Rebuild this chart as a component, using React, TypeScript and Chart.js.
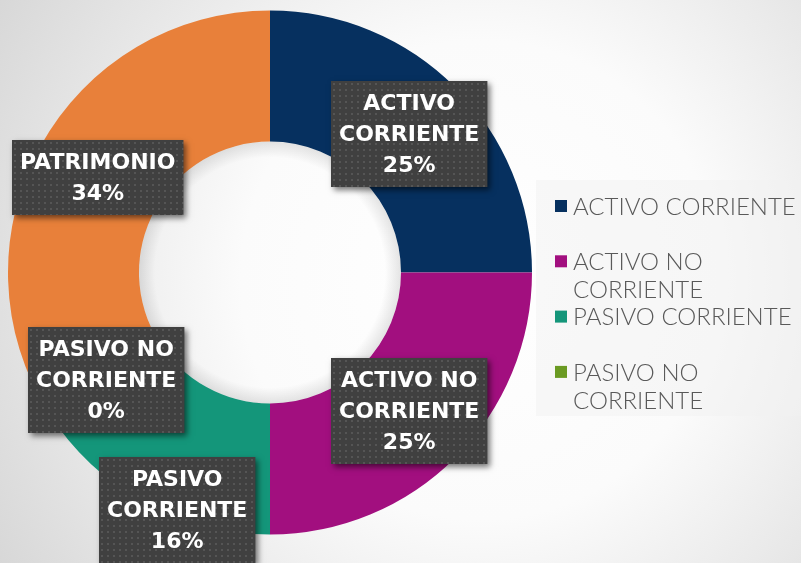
import React, { useEffect, useRef } from "react";
import { Chart, registerables } from "chart.js";

Chart.register(...registerables);

// ---- data ----
const categories = [
  "ACTIVO CORRIENTE",
  "ACTIVO NO CORRIENTE",
  "PASIVO CORRIENTE",
  "PASIVO NO CORRIENTE",
  "PATRIMONIO",
];
const values = [25, 25, 16, 0, 34];
const colors = ["#06305f", "#a20f7f", "#14967a", "#6a9a22", "#e8803a"];

// label placement tweaks (collision avoidance like the original)
const labelShift = [
  { dx: 0, dy: 0 },
  { dx: 0, dy: 0 },
  { dx: 2, dy: 65 },
  { dx: 2, dy: 2 },
  { dx: 0, dy: 0 },
];

const W = 801;
const H = 563;
const PANEL = { x: 536, y: 180, w: W - 536, h: 236 };

function wrap(ctx: CanvasRenderingContext2D, text: string, maxW: number): string[] {
  const words = text.split(" ");
  const lines: string[] = [];
  let cur = "";
  for (const w of words) {
    const t = cur ? cur + " " + w : w;
    if (cur && ctx.measureText(t).width > maxW) {
      lines.push(cur);
      cur = w;
    } else cur = t;
  }
  if (cur) lines.push(cur);
  return lines;
}

let dotPattern: CanvasPattern | null = null;
function getPattern(ctx: CanvasRenderingContext2D) {
  if (dotPattern) return dotPattern;
  const c = document.createElement("canvas");
  c.width = 6;
  c.height = 6;
  const p = c.getContext("2d")!;
  p.fillStyle = "rgba(255,255,255,0.11)";
  p.fillRect(2, 2, 2, 2);
  dotPattern = ctx.createPattern(c, "repeat");
  return dotPattern;
}

const bgPlugin = {
  id: "bgPlugin",
  beforeDraw(chart: any) {
    const ctx = chart.ctx as CanvasRenderingContext2D;
    ctx.save();
    const g = ctx.createRadialGradient(480, 280, 0, 480, 280, 570);
    g.addColorStop(0, "#ffffff");
    g.addColorStop(0.42, "#fbfbfb");
    g.addColorStop(1, "#d6d6d6");
    ctx.fillStyle = g;
    ctx.fillRect(0, 0, chart.width, chart.height);
    // legend panel
    ctx.fillStyle = "rgba(242,242,242,0.5)";
    ctx.fillRect(PANEL.x, PANEL.y, PANEL.w, PANEL.h);
    ctx.restore();
  },
};

const holePlugin = {
  id: "holePlugin",
  afterDatasetsDraw(chart: any) {
    const meta = chart.getDatasetMeta(0);
    const a = meta.data[0];
    if (!a) return;
    const ctx = chart.ctx as CanvasRenderingContext2D;
    const { x, y, innerRadius } = a;
    ctx.save();
    const g = ctx.createRadialGradient(x, y, innerRadius - 16, x, y, innerRadius);
    g.addColorStop(0, "rgba(0,0,0,0)");
    g.addColorStop(1, "rgba(0,0,0,0.10)");
    ctx.beginPath();
    ctx.arc(x, y, innerRadius, 0, Math.PI * 2);
    ctx.fillStyle = g;
    ctx.fill();
    ctx.restore();
  },
};

const boxLabels = {
  id: "boxLabels",
  afterDatasetsDraw(chart: any) {
    const ctx = chart.ctx as CanvasRenderingContext2D;
    const meta = chart.getDatasetMeta(0);
    const data: number[] = chart.data.datasets[0].data;
    const labels: string[] = chart.data.labels;
    const total = data.reduce((s, v) => s + v, 0);
    const lh = 31;
    const padX = 8;
    const padY = 6.5;
    ctx.save();
    ctx.font = 'bold 22px "DejaVu Sans"';
    meta.data.forEach((arc: any, i: number) => {
      const c = arc.getCenterPoint();
      const pct = Math.round((data[i] / total) * 100) + "%";
      const lines = wrap(ctx, labels[i], 175).concat(pct);
      const w = Math.max(...lines.map((l) => ctx.measureText(l).width)) + padX * 2;
      const h = lines.length * lh + padY * 2;
      const cx = c.x + labelShift[i].dx;
      const cy = c.y + labelShift[i].dy;
      const x = Math.round(cx - w / 2);
      const y = Math.round(cy - h / 2);
      ctx.save();
      ctx.shadowColor = "rgba(0,0,0,0.55)";
      ctx.shadowBlur = 6;
      ctx.shadowOffsetX = 3;
      ctx.shadowOffsetY = 3;
      ctx.fillStyle = "#404040";
      ctx.fillRect(x, y, w, h);
      ctx.restore();
      ctx.save();
      ctx.translate(x, y);
      ctx.fillStyle = getPattern(ctx) as any;
      ctx.fillRect(0, 0, w, h);
      ctx.restore();
      ctx.fillStyle = "#ffffff";
      ctx.textAlign = "center";
      ctx.textBaseline = "middle";
      lines.forEach((l, k) => {
        ctx.fillText(l, x + w / 2, y + padY + lh / 2 + k * lh + 1);
      });
    });
    ctx.restore();
  },
};

const sideLegend = {
  id: "sideLegend",
  afterDraw(chart: any) {
    const ctx = chart.ctx as CanvasRenderingContext2D;
    const labels: string[] = chart.data.labels;
    const bg: string[] = chart.data.datasets[0].backgroundColor;
    const x0 = 555;
    const tx = 573;
    const y0 = 206;
    const step = 55.3;
    const lineH = 28;
    ctx.save();
    // legend area is clipped to its panel, as in the original
    ctx.beginPath();
    ctx.rect(PANEL.x, PANEL.y, PANEL.w, PANEL.h);
    ctx.clip();
    ctx.font = '300 24px "Lato"';
    ctx.textAlign = "left";
    ctx.textBaseline = "middle";
    labels.forEach((lab, i) => {
      const y = y0 + i * step;
      ctx.fillStyle = bg[i];
      ctx.fillRect(x0, y - 6, 12, 12);
      ctx.fillStyle = "#595959";
      const lines = wrap(ctx, lab, W - tx - 2);
      lines.forEach((l, k) => ctx.fillText(l, tx, y + k * lineH + 1));
    });
    ctx.restore();
  },
};

export default function App() {
  const ref = useRef<HTMLCanvasElement>(null);
  useEffect(() => {
    if (!ref.current) return;
    const chart = new Chart(ref.current, {
      type: "doughnut",
      data: {
        labels: categories,
        datasets: [
          {
            data: values,
            backgroundColor: colors,
            borderWidth: 0,
          },
        ],
      },
      options: {
        responsive: false,
        animation: false,
        cutout: "50%",
        layout: { padding: { left: 8, right: W - 532, top: 10, bottom: H - 535 } },
        plugins: {
          legend: { display: false },
          tooltip: { enabled: false },
        },
      },
      plugins: [bgPlugin, holePlugin, boxLabels, sideLegend],
    });
    return () => chart.destroy();
  }, []);
  return (
    <div style={{ position: "absolute", left: 0, top: 0, width: W, height: H }}>
      <canvas ref={ref} width={W} height={H} style={{ width: W, height: H, display: "block" }} />
    </div>
  );
}
